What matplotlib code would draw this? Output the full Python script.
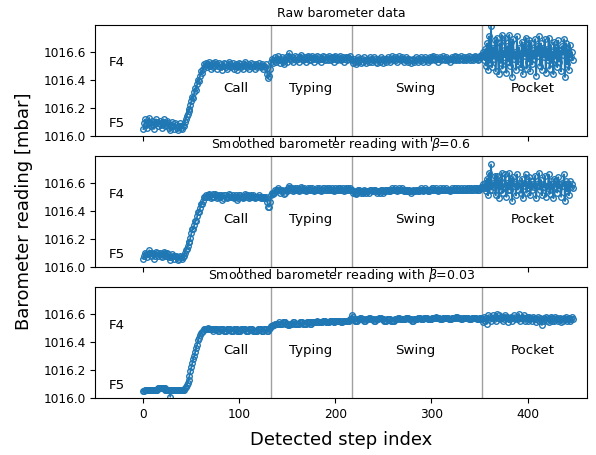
import matplotlib.pyplot as plt
import numpy as np

# barometer readings, stored as hundredths of a mbar above 1016.00
base = 1016.0

raw_a = [5, 9, 12, 8, 6, 10, 13, 9, 7, 11, 8, 5, 9, 12, 10, 7, 9, 11, 8, 6,
         10, 12, 9, 7, 8, 11, 9, 6, 4, 8, 10, 7, 5, 9, 8, 6, 4, 7, 9, 6,
         5, 8, 7, 10, 12]
raw_b = [14, 16, 19, 18, 22, 25, 28, 27, 31, 34, 33, 37, 40, 39, 43, 46, 45, 48, 51, 50]
raw_c = [52, 49, 51, 53, 50, 48, 51, 52, 49, 50, 53, 51, 48, 50, 52, 49, 51, 47, 50, 52,
         51, 49, 48, 50, 53, 51, 49, 50, 52, 48, 50, 51, 49, 47, 50, 52, 51, 49, 50, 48,
         51, 53, 50, 49, 51, 48, 50, 52, 49, 51, 50, 48, 51, 49, 50, 52, 50, 49, 51, 50,
         48, 50, 49, 51, 44, 41, 43, 48]
raw_d = [53, 55, 52, 54, 56, 53, 55, 57, 54, 52, 55, 56, 53, 51, 54, 56, 55, 53, 57, 59,
         55, 54, 56, 53, 55, 57, 54, 56, 55, 53, 56, 58, 55, 54, 56, 55, 53, 56, 57, 54,
         55, 56, 54, 57, 55, 53, 56, 55, 57, 54, 56, 55, 53, 55, 57, 56, 54, 55, 56, 54,
         57, 55, 54, 56, 55, 53, 56, 57, 55, 54, 56, 55, 57, 54, 55, 56, 53, 55, 56, 54,
         56, 55, 57, 55]
raw_e = [54, 52, 55, 53, 51, 54, 56, 53, 55, 54, 52, 55, 53, 56, 54, 52, 55, 54, 53, 56,
         55, 53, 54, 56, 55, 53, 52, 55, 54, 53, 56, 55, 54, 52, 54, 55, 53, 55, 56, 54,
         53, 55, 57, 54, 55, 56, 54, 53, 55, 57, 55, 54, 56, 55, 53, 54, 56, 55, 54, 53,
         55, 54, 52, 54, 55, 53, 54, 56, 55, 53, 54, 55, 56, 54, 53, 55, 56, 54, 55, 53,
         54, 56, 55, 54, 56, 57, 55, 54, 56, 55, 53, 55, 56, 54, 55, 57, 55, 54, 56, 55,
         54, 55, 53, 55, 56, 54, 55, 57, 56, 54, 55, 56, 54, 55, 57, 55, 54, 56, 55, 54,
         56, 55, 57, 54, 56, 55, 54, 56, 57, 55, 56, 54, 55, 57, 56, 58]
raw_f = [57, 60, 54, 62, 50, 66, 47, 71, 52, 78, 49, 63, 55, 68, 46, 70, 58, 44, 66, 52,
         72, 48, 61, 56, 70, 45, 64, 53, 72, 50, 67, 42, 69, 55, 60, 47, 71, 51, 63, 58,
         49, 67, 44, 65, 57, 70, 48, 62, 53, 68, 46, 66, 51, 61, 55, 69, 43, 64, 57, 71,
         50, 66, 47, 63, 56, 69, 45, 62, 54, 70, 48, 65, 52, 60, 44, 67, 55, 63, 49, 68,
         53, 61, 46, 64, 58, 69, 42, 66, 51, 62, 47, 65, 56, 60, 54]

mid_a = [6, 8, 10, 9, 7, 9, 12, 10, 8, 10, 9, 6, 8, 11, 10, 8, 9, 10, 8, 7,
         9, 11, 10, 8, 8, 10, 9, 7, 5, 7, 9, 8, 6, 8, 8, 7, 5, 6, 8, 7,
         6, 7, 8, 10, 12]
mid_b = [13, 15, 18, 18, 21, 24, 27, 27, 30, 33, 33, 36, 39, 39, 42, 45, 45, 47, 50, 50]
mid_c = [51, 50, 51, 52, 51, 49, 50, 52, 50, 50, 52, 51, 49, 50, 51, 50, 51, 48, 49, 51,
         51, 50, 49, 50, 52, 51, 50, 50, 51, 49, 50, 51, 50, 48, 49, 51, 51, 50, 50, 49,
         50, 52, 51, 50, 51, 49, 50, 51, 50, 51, 50, 49, 50, 50, 50, 51, 50, 49, 50, 50,
         49, 50, 49, 50, 46, 43, 43, 46]
mid_d = [51, 53, 52, 53, 55, 54, 55, 56, 55, 53, 54, 55, 54, 52, 53, 55, 55, 54, 56, 58,
         56, 55, 56, 54, 55, 56, 55, 56, 55, 54, 55, 57, 56, 55, 56, 55, 54, 55, 56, 55,
         55, 56, 55, 56, 55, 54, 55, 55, 56, 55, 56, 55, 54, 55, 56, 56, 55, 55, 56, 55,
         56, 55, 55, 56, 55, 54, 55, 56, 55, 55, 56, 55, 56, 55, 55, 56, 54, 55, 56, 55,
         56, 55, 56, 55]
mid_e = [55, 53, 54, 53, 52, 53, 55, 54, 55, 54, 53, 54, 53, 55, 54, 53, 54, 54, 53, 55,
         55, 54, 54, 55, 55, 54, 53, 54, 54, 53, 55, 55, 54, 53, 54, 55, 54, 55, 55, 54,
         54, 55, 56, 55, 55, 56, 55, 54, 55, 56, 55, 55, 56, 55, 54, 54, 55, 55, 54, 54,
         55, 54, 53, 54, 55, 54, 54, 55, 55, 54, 54, 55, 56, 55, 54, 55, 56, 55, 55, 54,
         54, 55, 55, 55, 56, 56, 55, 55, 56, 55, 54, 55, 56, 55, 55, 56, 55, 55, 56, 55,
         55, 55, 54, 55, 56, 55, 55, 56, 56, 55, 55, 56, 55, 55, 56, 55, 55, 56, 55, 55,
         56, 55, 56, 55, 56, 55, 55, 56, 56, 55, 56, 55, 55, 56, 56, 57]
mid_f = [57, 59, 56, 60, 54, 63, 51, 67, 55, 73, 55, 60, 57, 65, 51, 65, 60, 49, 62, 55,
         67, 53, 58, 57, 66, 50, 60, 55, 67, 55, 63, 47, 64, 58, 59, 51, 66, 55, 60, 59,
         53, 63, 49, 60, 58, 66, 53, 59, 56, 64, 51, 61, 55, 59, 57, 65, 49, 59, 58, 67,
         55, 62, 51, 59, 57, 65, 50, 58, 56, 66, 52, 61, 55, 59, 49, 63, 57, 61, 53, 64,
         56, 59, 50, 60, 58, 66, 47, 61, 54, 59, 51, 61, 57, 59, 56]

low_a = [5, 5, 6, 6, 6, 6, 6, 6, 6, 6, 6, 6, 6, 6, 6, 7, 7, 7, 7, 7,
         7, 7, 7, 6, 6, 6, 6, 6, 1, 6, 6, 6, 6, 6, 6, 6, 6, 6, 6, 6,
         6, 6, 6, 7, 8]
low_b = [9, 11, 13, 16, 19, 22, 25, 28, 30, 33, 36, 38, 41, 43, 45, 46, 47, 48, 49, 49]
low_c = [49, 49, 50, 49, 49, 49, 49, 48, 49, 49, 49, 49, 49, 48, 48, 49, 49, 49, 49, 48,
         48, 48, 49, 49, 49, 49, 48, 48, 48, 49, 49, 49, 49, 48, 48, 48, 48, 49, 49, 49,
         49, 49, 48, 48, 48, 49, 49, 49, 49, 48, 48, 48, 48, 48, 49, 49, 49, 49, 48, 48,
         48, 49, 49, 49, 48, 48, 49, 50]
low_d = [51, 51, 52, 52, 53, 53, 53, 53, 54, 53, 53, 53, 54, 54, 54, 53, 53, 53, 52, 52,
         53, 53, 53, 54, 54, 53, 53, 53, 53, 53, 54, 54, 54, 53, 53, 53, 53, 54, 54, 54,
         54, 53, 53, 54, 54, 54, 54, 54, 55, 54, 54, 54, 54, 54, 55, 55, 55, 54, 54, 54,
         54, 55, 55, 55, 55, 54, 54, 55, 55, 55, 55, 55, 55, 54, 54, 55, 55, 55, 55, 55,
         55, 55, 56, 56]
low_e = [59, 58, 56, 55, 55, 55, 56, 56, 56, 57, 57, 56, 56, 55, 55, 56, 56, 56, 57, 57,
         56, 56, 56, 55, 55, 56, 56, 56, 57, 57, 57, 56, 56, 56, 55, 55, 55, 56, 56, 56,
         56, 55, 55, 55, 55, 56, 56, 56, 57, 57, 56, 56, 56, 56, 56, 56, 57, 57, 57, 57,
         56, 56, 56, 55, 55, 56, 56, 56, 56, 57, 57, 57, 56, 56, 56, 57, 57, 57, 57, 56,
         56, 56, 56, 56, 57, 57, 57, 57, 58, 57, 57, 57, 56, 56, 56, 57, 57, 57, 57, 57,
         57, 56, 56, 56, 57, 57, 57, 57, 57, 58, 58, 57, 57, 57, 56, 56, 57, 57, 57, 57,
         57, 57, 56, 56, 56, 57, 57, 57, 57, 57, 56, 56, 56, 57, 57, 57]
low_f = [56, 54, 58, 55, 57, 53, 59, 56, 58, 55, 57, 59, 56, 58, 55, 60, 57, 59, 56, 58,
         57, 55, 58, 56, 59, 57, 58, 54, 57, 56, 58, 55, 57, 59, 56, 58, 57, 56, 60, 55,
         57, 58, 56, 59, 55, 57, 58, 56, 55, 58, 56, 57, 55, 58, 56, 57, 54, 56, 58, 55,
         57, 56, 52, 55, 57, 56, 58, 55, 57, 54, 56, 58, 55, 57, 56, 55, 58, 56, 57, 55,
         56, 57, 54, 56, 55, 57, 56, 58, 55, 56, 57, 55, 56, 58, 56]

raw = base + np.array(raw_a + raw_b + raw_c + raw_d + raw_e + raw_f) / 100
smooth_06 = base + np.array(mid_a + mid_b + mid_c + mid_d + mid_e + mid_f) / 100
smooth_003 = base + np.array(low_a + low_b + low_c + low_d + low_e + low_f) / 100
steps = np.arange(len(raw))

boundaries = [133, 217, 353]
activities = ["Call", "Typing", "Swing", "Pocket"]
activity_x = [96, 174, 283, 405]
titles = ["Raw barometer data",
          r"Smoothed barometer reading with $\beta$=0.6",
          r"Smoothed barometer reading with $\beta$=0.03"]

fig, axes = plt.subplots(3, 1, sharex=True, figsize=(5.96, 4.55), dpi=100)
fig.subplots_adjust(left=0.16, right=0.985, top=0.945, bottom=0.125, hspace=0.18)

for ax, series, title in zip(axes, [raw, smooth_06, smooth_003], titles):
    for b in boundaries:
        ax.axvline(b, color="#a0a0a0", lw=1, zorder=1)
    ax.plot(steps, series, color="tab:blue", marker="o", ms=4, mfc="none",
            mew=1, lw=1.3, zorder=2)
    ax.set_title(title, fontsize=9)
    ax.set_ylim(1016.0, 1016.79)
    ax.set_yticks([1016.0, 1016.2, 1016.4, 1016.6])
    ax.set_yticklabels(["1016.0", "1016.2", "1016.4", "1016.6"])
    ax.tick_params(labelsize=8.7)
    ax.text(-36, 1016.52, "F4", fontsize=9.6, va="center")
    ax.text(-36, 1016.09, "F5", fontsize=9.6, va="center")
    for name, x in zip(activities, activity_x):
        ax.text(x, 1016.34, name, fontsize=9.6, ha="center", va="center")

axes[-1].set_xlim(-50, 462)
fig.text(0.04, 0.535, "Barometer reading [mbar]", rotation=90, fontsize=13,
         ha="center", va="center")
fig.text(0.5725, 0.033, "Detected step index", fontsize=13, ha="center", va="center")

fig.savefig("out.png", dpi=100)
